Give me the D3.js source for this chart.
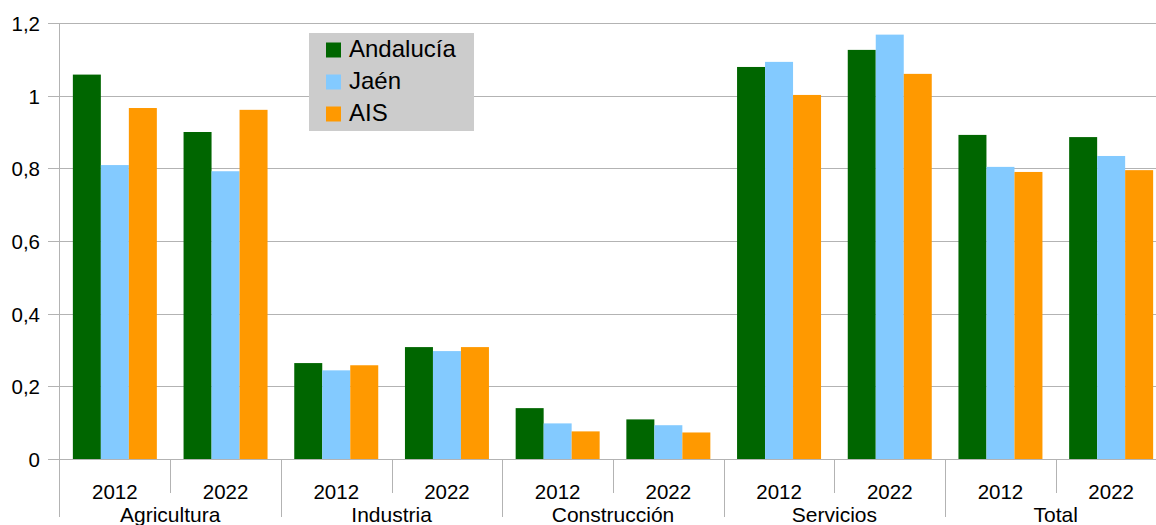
<!DOCTYPE html>
<html><head><meta charset="utf-8">
<script src="https://cdn.jsdelivr.net/npm/d3@7"></script>
<style>html,body{margin:0;padding:0;background:#fff;}svg{display:block;}</style>
</head><body>
<svg id="chart" width="1156" height="525"></svg>
<script>
const categories = ["Agricultura","Industria","Construcción","Servicios","Total"];
const years = ["2012","2022"];
const seriesNames = ["Andalucía","Jaén","AIS"];
const andalucia = [1.058,0.900, 0.264,0.308, 0.140,0.109, 1.079,1.126, 0.892,0.886];
const jaen      = [0.809,0.792, 0.244,0.297, 0.098,0.093, 1.093,1.168, 0.804,0.834];
const ais       = [0.966,0.961, 0.258,0.308, 0.076,0.073, 1.002,1.060, 0.790,0.795];
const yTicks = [0,0.2,0.4,0.6,0.8,1,1.2];
const colors = ["#006600","#83caff","#ff9900"];

const svg = d3.select("#chart");
const mLeft = 59.5, mRight = 1166.5, mTop = 23, mBottom = 459;
const slots = [];
categories.forEach(c => years.forEach(yy => slots.push(c + "|" + yy)));
const x = d3.scaleBand().domain(slots).range([mLeft, mRight]).padding(0);
const xs = d3.scaleBand().domain(seriesNames).range([0, x.bandwidth()]).paddingInner(0).paddingOuter(0.477);
const y = d3.scaleLinear().domain([0,1.2]).range([mBottom, mTop]);
const grid = "#b3b3b3";
const FONT = "Liberation Sans, Arial, sans-serif";

// gridlines
svg.append("g").selectAll("line").data(yTicks).join("line")
  .attr("x1", 48).attr("x2", 1156)
  .attr("y1", d => Math.round(y(d)) + 0.5).attr("y2", d => Math.round(y(d)) + 0.5)
  .attr("stroke", grid).attr("stroke-width", 1);

// y labels
const fmt = d => d3.format("~g")(d).replace(".", ",");
svg.append("g").selectAll("text").data(yTicks).join("text")
  .attr("x", 40).attr("y", d => y(d) + 8)
  .attr("text-anchor", "end").attr("font-family", FONT)
  .attr("font-size", 20.5).attr("fill", "#000").text(fmt);

// bars
const all = [andalucia, jaen, ais];
all.forEach((vals, si) => {
  svg.append("g").selectAll("rect").data(vals).join("rect")
    .attr("x", (d, i) => x(slots[i]) + xs(seriesNames[si]))
    .attr("width", xs.bandwidth())
    .attr("y", d => y(d)).attr("height", d => y(0) - y(d))
    .attr("fill", colors[si]);
});

// y axis line
svg.append("line").attr("x1", mLeft).attr("x2", mLeft).attr("y1", mTop).attr("y2", 517)
  .attr("stroke", grid);

// x ticks
const bounds = d3.range(slots.length + 1).map(i => mLeft + i * x.step());
svg.append("g").selectAll("line").data(bounds.slice(1)).join("line")
  .attr("x1", d => Math.round(d) + 0.5).attr("x2", d => Math.round(d) + 0.5)
  .attr("y1", mBottom).attr("y2", (d, i) => (i % 2 === 1) ? 517 : 493)
  .attr("stroke", grid);

// year labels
svg.append("g").selectAll("text").data(slots).join("text")
  .attr("x", d => x(d) + x.bandwidth() / 2).attr("y", 499)
  .attr("text-anchor", "middle").attr("font-family", FONT)
  .attr("font-size", 20.5).attr("fill", "#000").text(d => d.split("|")[1]);

// category labels
svg.append("g").selectAll("text").data(categories).join("text")
  .attr("x", (d, i) => mLeft + (2 * i + 1) * x.step())
  .attr("y", 522)
  .attr("text-anchor", "middle").attr("font-family", FONT)
  .attr("font-size", 21).attr("fill", "#000").text(d => d);

// legend
const lg = svg.append("g").attr("transform", "translate(309,33)");
lg.append("rect").attr("width", 165).attr("height", 98).attr("fill", "#cccccc");
seriesNames.forEach((s, i) => {
  const cy = 17 + i * 32;
  lg.append("rect").attr("x", 17).attr("y", cy - 7.5).attr("width", 15).attr("height", 15).attr("fill", colors[i]);
  lg.append("text").attr("x", 40).attr("y", cy + 7)
    .attr("font-family", FONT).attr("font-size", 24)
    .attr("fill", "#000").text(s);
});
</script>
</body></html>
